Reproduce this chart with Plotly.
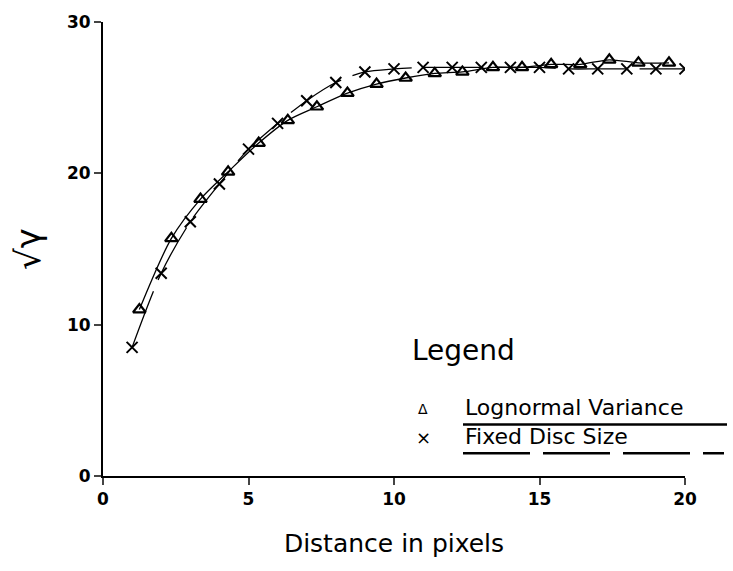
import plotly.graph_objects as go

# Lognormal Variance (triangles)
tri_x = [1.25, 2.35, 3.35, 4.3, 5.35, 6.35, 7.35, 8.4, 9.4, 10.4, 11.4, 12.35, 13.4, 14.4, 15.4, 16.4, 17.4, 18.4, 19.45]
tri_y = [11.0, 15.7, 18.3, 20.1, 22.0, 23.5, 24.4, 25.3, 25.9, 26.3, 26.6, 26.7, 27.0, 27.0, 27.2, 27.2, 27.5, 27.3, 27.3]

# Fixed Disc Size (crosses)
crs_x = [1, 2, 3, 4, 5, 6, 7, 8, 9, 10, 11, 12, 13, 14, 15, 16, 17, 18, 19, 20]
crs_y = [8.5, 13.4, 16.8, 19.3, 21.6, 23.3, 24.8, 26.0, 26.7, 26.9, 27.0, 27.0, 27.0, 27.0, 27.0, 26.9, 26.9, 26.9, 26.9, 26.9]

x_ticks = [0, 5, 10, 15, 20]
y_ticks = [0, 10, 20, 30]

legend_title = "Legend"
series_names = ["Lognormal Variance", "Fixed Disc Size"]

FONT = "DejaVu Sans"

fig = go.Figure()
fig.add_trace(go.Scatter(
    x=tri_x, y=tri_y, mode="lines+markers", name=series_names[0],
    line=dict(color="black", width=1.3, shape="spline", smoothing=0.8),
    marker=dict(symbol="triangle-up-open", size=11, color="black", line=dict(width=2.2)),
    showlegend=False,
))
fig.add_trace(go.Scatter(
    x=crs_x, y=crs_y, mode="lines+markers", name=series_names[1],
    line=dict(color="black", width=1.3, shape="spline", smoothing=0.8, dash="60px,12px"),
    marker=dict(symbol="x-thin-open", size=11, color="black", line=dict(width=2, color="black")),
    showlegend=False,
))

fig.update_layout(
    width=733, height=571,
    margin=dict(l=103, r=48, t=17, b=95),
    paper_bgcolor="white", plot_bgcolor="white",
    font=dict(family=FONT, color="black"),
    xaxis=dict(
        range=[0, 20], tickvals=x_ticks, ticks="outside", ticklen=7, tickwidth=1.5,
        showline=True, linecolor="black", linewidth=2, showgrid=False, zeroline=False,
        tickfont=dict(family=FONT, size=17, color="black", weight="bold"),
        title=dict(text="Distance in pixels", font=dict(family=FONT, size=25, color="black"), standoff=26),
    ),
    yaxis=dict(
        range=[0, 30], tickvals=y_ticks, ticks="outside", ticklen=7, tickwidth=1.5,
        showline=True, linecolor="black", linewidth=2, showgrid=False, zeroline=False,
        tickfont=dict(family=FONT, size=17, color="black", weight="bold"),
        title=dict(text="√γ", font=dict(family=FONT, size=34, color="black"), standoff=16),
    ),
)

# Custom legend (drawn in paper coordinates)
W, H = 733, 571
pw, ph = W - 103 - 48, H - 17 - 95
def px(x):
    return (x - 103) / pw
def py(y):
    return (H - 95 - y) / ph

fig.add_annotation(xref="paper", yref="paper", x=px(410), y=py(349), text=legend_title,
                   showarrow=False, xanchor="left", yanchor="middle",
                   font=dict(family=FONT, size=28, color="black"))
fig.add_annotation(xref="paper", yref="paper", x=px(423), y=py(408), text="Δ",
                   showarrow=False, xanchor="center", yanchor="middle",
                   font=dict(family=FONT, size=14, color="black"))
fig.add_annotation(xref="paper", yref="paper", x=px(463), y=py(407), text=series_names[0],
                   showarrow=False, xanchor="left", yanchor="middle",
                   font=dict(family=FONT, size=22, color="black"))
fig.add_annotation(xref="paper", yref="paper", x=px(423), y=py(437), text="×",
                   showarrow=False, xanchor="center", yanchor="middle",
                   font=dict(family=FONT, size=18, color="black"))
fig.add_annotation(xref="paper", yref="paper", x=px(463), y=py(436), text=series_names[1],
                   showarrow=False, xanchor="left", yanchor="middle",
                   font=dict(family=FONT, size=22, color="black"))
fig.add_shape(type="line", xref="paper", yref="paper", x0=px(463), x1=px(727), y0=py(424), y1=py(424),
              line=dict(color="black", width=2.5))
fig.add_shape(type="line", xref="paper", yref="paper", x0=px(463), x1=px(724), y0=py(453), y1=py(453),
              line=dict(color="black", width=2.5, dash="67px,13px"))

fig.write_html("out.html")
